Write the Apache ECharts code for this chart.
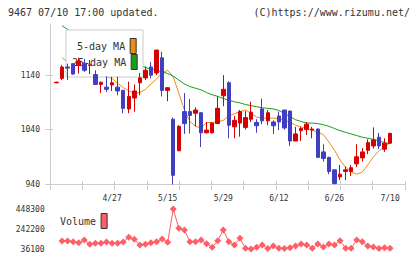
<!DOCTYPE html>
<html><head><meta charset="utf-8">
<script src="https://cdn.jsdelivr.net/npm/echarts@6/dist/echarts.min.js"></script>
<style>html,body{margin:0;padding:0;background:#fff}#c{width:420px;height:259px}</style>
</head><body><div id="c"></div>
<script>
const dates = ['4/13','4/14','4/15','4/16','4/17','4/20','4/21','4/22','4/23','4/24',
 '4/27','4/28','4/30','5/1','5/7','5/8','5/11','5/12','5/13','5/14',
 '5/15','5/18','5/19','5/20','5/21','5/22','5/25','5/26','5/27','5/28',
 '5/29','6/1','6/2','6/3','6/4','6/5','6/8','6/9','6/10','6/11',
 '6/12','6/15','6/16','6/17','6/18','6/19','6/22','6/23','6/24','6/25',
 '6/26','6/29','6/30','7/1','7/2','7/3','7/6','7/7','7/8','7/9','7/10'];
const opens = [1126,1134,1155,1161,1158,1162,1158,1141,1123,1118,
 1122,1118,1112,1078,1098,1126,1135,1155,1144,1172,
 1112,1059,1001,1073,1073,1070,1071,1034,1034,1051,
 1102,1126,1045,1052,1044,1059,1053,1078,1056,1054,
 1065,1076,1074,1019,1038,1040,1039,1041,999,989,
 966,953,963,963,977,988,1002,1010,1026,1004,1015];
const closes = [1127,1155,1153,1142,1166,1149,1159,1123,1127,1114,
 1126,1111,1079,1101,1111,1135,1149,1140,1186,1112,
 1117,956,1046,1051,1066,1076,1034,1039,1052,1079,
 1114,1048,1057,1073,1062,1072,1047,1056,1071,1047,
 1054,1043,1019,1032,1042,1050,1041,989,987,963,
 941,958,966,970,990,999,1016,1021,1010,1015,1033];
const lows = [1125,1131,1131,1141,1143,1146,1142,1123,1107,1109,
 1111,1103,1070,1070,1073,1103,1131,1134,1140,1101,
 1092,939,1001,1032,1033,1046,1008,1033,1033,1050,
 1083,1024,1024,1027,1040,1054,1034,1050,1048,1032,
 1039,1040,1010,1019,1019,1030,1024,988,981,958,
 939,947,947,955,971,981,995,1005,1004,999,1014];
const highs = [1128,1159,1161,1162,1172,1170,1168,1149,1128,1138,
 1137,1137,1113,1128,1123,1144,1156,1164,1187,1183,
 1118,1062,1048,1107,1096,1081,1072,1054,1053,1101,
 1140,1129,1065,1076,1074,1091,1059,1097,1076,1057,
 1073,1076,1075,1045,1045,1054,1045,1042,1013,990,
 966,975,972,975,1013,1006,1022,1044,1034,1024,1034];
const ma5 = ['-',1172,1164,1158,1155,1154,1152,1148,1142,1137,
 1134,1125,1117,1111,1107,1108,1114,1124,1133,1144,
 1149,1137,1107,1076,1055,1046,1043,1053,1053,1054,
 1057,1065,1069,1073,1076,1070,1063,1061,1061,1061,
 1060,1057,1054,1048,1045,1042,1039,1035,1031,1017,
 1002,984,971,962,958,962,975,990,1001,1008,1016];
const ma25 = ['-',1231,1224,1219,1214,1209,1205,1200,1195,1190,
 1185,1179,1174,1169,1164,1159,1154,1151,1149,1146,
 1143,1138,1131,1124,1119,1116,1113,1108,1104,1101,
 1097,1094,1091,1089,1086,1084,1082,1080,1079,1078,
 1075,1070,1064,1058,1055,1052,1052,1051,1049,1046,
 1042,1038,1035,1032,1029,1026,1024,1022,1019,1016,1014];
const volumes = ['-',118200,118000,111000,101000,129000,84000,95000,95500,108000,
 95000,95200,108300,157000,136000,77000,84200,101000,111500,139000,
 105000,448300,249000,232000,111000,111300,129000,90000,53000,122000,
 232500,111000,77000,146000,43000,36100,53000,77400,40000,67000,
 43000,40200,50000,67300,88000,77000,43300,88300,57000,88000,
 77200,122000,43100,43200,129200,111000,67000,57200,40100,50000,43400];
const priceTicks = [940, 1040, 1140];
const volumeTicks = [36100, 242200, 448300];

const UP = '#d70000', DOWN = '#3f3fbf', ORANGE = '#f08c10', GREEN = '#1a9e1a', VOL = '#ff5f66';
const AXIS = '#ccc';
const FONT = 'DejaVu Sans Mono';
const SLOT = 5.56, GL = 53.7, GW = SLOT * dates.length;
const candleData = dates.map((d, i) => [opens[i], closes[i], lows[i], highs[i]]);
const txt = (size) => ({fontFamily: FONT, fontSize: size, color: '#333', fontWeight: 'normal'});
const plain = (v) => String(v);
const legendBase = {orient: 'vertical', align: 'right', itemWidth: 6, itemHeight: 15, padding: 0,
  selectedMode: false, textStyle: txt(10), itemStyle: {borderColor: '#333', borderWidth: 1}, z: 4};

const chart = echarts.init(document.getElementById('c'), null, {renderer: 'svg', width: 420, height: 259});
chart.setOption({
  animation: false,
  backgroundColor: '#fff',
  title: [
    {text: '9467 07/10 17:00 updated.', left: 8, top: 7, padding: 0, textStyle: txt(10)},
    {text: '(C)https://www.rizumu.net/', right: 10, top: 7, padding: 0, textStyle: txt(10)}
  ],
  legend: [
    Object.assign({}, legendBase, {data: [{name: '5-day MA', icon: 'rect'}], left: 77, top: 38}),
    Object.assign({}, legendBase, {data: [{name: '25-day MA', icon: 'rect'}], left: 72, top: 54}),
    Object.assign({}, legendBase, {data: [{name: 'Volume', icon: 'rect'}], left: 60, top: 213})
  ],
  graphic: [{type: 'rect', shape: {x: 66, y: 30, width: 77, height: 47},
    style: {fill: '#fff', stroke: AXIS, lineWidth: 1}, z: 3, silent: true}],
  grid: [
    {left: 50, top: 24, width: 355, height: 160},
    {left: GL, top: 24, width: GW, height: 160},
    {left: GL, top: 209, width: GW, height: 40}
  ],
  xAxis: [
    {gridIndex: 0, type: 'value', min: 0, max: 11, interval: 1,
      axisLine: {lineStyle: {color: AXIS}}, axisTick: {length: 6, lineStyle: {color: AXIS}},
      axisLabel: {show: false}, splitLine: {show: false}},
    {gridIndex: 1, type: 'category', data: dates, boundaryGap: true,
      axisLine: {show: false}, axisTick: {show: false}, splitLine: {show: false},
      axisLabel: Object.assign(txt(8), {margin: 10, interval: (i) => i > 0 && i % 10 === 0})},
    {gridIndex: 2, type: 'category', data: dates, boundaryGap: true, show: false},
    {gridIndex: 0, type: 'value', position: 'bottom', min: 0, max: 11, interval: 1,
      axisLine: {show: false}, axisTick: {inside: true, length: 3, lineStyle: {color: AXIS}},
      axisLabel: {show: false}, splitLine: {show: false}}
  ],
  yAxis: [
    {gridIndex: 0, type: 'value', min: 940, max: 1234,
      axisLine: {show: true, lineStyle: {color: AXIS}},
      axisTick: {show: true, length: 5, customValues: priceTicks, lineStyle: {color: AXIS}},
      axisLabel: Object.assign(txt(8), {margin: 10, customValues: priceTicks, formatter: plain}),
      splitLine: {show: false}},
    {gridIndex: 1, type: 'value', min: 940, max: 1234, show: false},
    {gridIndex: 2, type: 'value', min: 36100, max: 448300,
      axisLine: {show: false}, axisTick: {show: false}, splitLine: {show: false},
      axisLabel: Object.assign(txt(8), {margin: 9, customValues: volumeTicks, formatter: plain})},
    {gridIndex: 0, type: 'value', position: 'left', min: 940, max: 1234,
      axisLine: {show: false},
      axisTick: {show: true, inside: true, length: 3, customValues: priceTicks, lineStyle: {color: AXIS}},
      axisLabel: {show: false}, splitLine: {show: false}}
  ],
  series: [
    {name: '5-day MA', type: 'line', xAxisIndex: 1, yAxisIndex: 1, data: ma5, symbol: 'none',
      lineStyle: {width: 1, color: ORANGE}, itemStyle: {color: ORANGE}, z: 1, silent: true},
    {name: '25-day MA', type: 'line', xAxisIndex: 1, yAxisIndex: 1, data: ma25, symbol: 'none',
      lineStyle: {width: 1, color: GREEN}, itemStyle: {color: GREEN}, z: 1, silent: true},
    {name: 'Price', type: 'candlestick', xAxisIndex: 1, yAxisIndex: 1, data: candleData, barWidth: 4, z: 5,
      itemStyle: {color: UP, color0: DOWN, borderColor: UP, borderColor0: DOWN, borderWidth: 1}},
    {name: 'Volume', type: 'line', xAxisIndex: 2, yAxisIndex: 2, data: volumes,
      symbol: 'diamond', symbolSize: 7, showAllSymbol: true,
      lineStyle: {width: 1, color: VOL}, itemStyle: {color: VOL}}
  ]
});
</script></body></html>
